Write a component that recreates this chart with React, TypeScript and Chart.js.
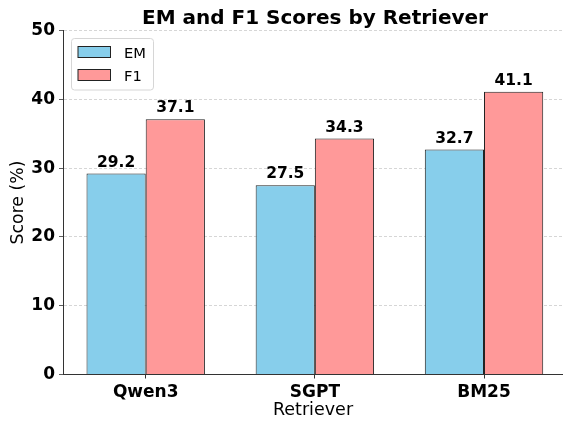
import React, { useEffect, useRef } from "react";
import { Chart, registerables } from "chart.js";

Chart.register(...registerables);

const categories = ["Qwen3", "SGPT", "BM25"];
const emValues = [29.2, 27.5, 32.7];
const f1Values = [37.1, 34.3, 41.1];
const seriesNames = ["EM", "F1"];
const yTicks = [0, 10, 20, 30, 40, 50];

const FONT = "'DejaVu Sans', sans-serif";
const EM_COLOR = "#87CEEB";
const F1_COLOR = "#FF9999";

export default function App() {
  const ref = useRef<HTMLCanvasElement | null>(null);

  useEffect(() => {
    const canvas = ref.current;
    if (!canvas) return;

    const overlay = {
      id: "overlay",
      afterDatasetsDraw(chart: any) {
        const ctx = chart.ctx;
        ctx.save();
        ctx.font = `bold 15.5px ${FONT}`;
        ctx.fillStyle = "#000";
        ctx.textAlign = "center";
        ctx.textBaseline = "alphabetic";
        chart.data.datasets.forEach((ds: any, di: number) => {
          const meta = chart.getDatasetMeta(di);
          meta.data.forEach((bar: any, i: number) => {
            const v = ds.data[i].y;
            ctx.fillText(v.toFixed(1), bar.x, bar.y - 7);
          });
        });
        ctx.restore();
      },
      afterDraw(chart: any) {
        const ctx = chart.ctx;
        ctx.save();
        ctx.font = `bold 20px ${FONT}`;
        ctx.fillStyle = "#000";
        ctx.textAlign = "center";
        ctx.textBaseline = "alphabetic";
        ctx.fillText("EM and F1 Scores by Retriever", 315, 24);

        const lx = 71.5, ly = 38.5, lw = 82, lh = 51.5, r = 3;
        ctx.beginPath();
        ctx.moveTo(lx + r, ly);
        ctx.lineTo(lx + lw - r, ly);
        ctx.arcTo(lx + lw, ly, lx + lw, ly + r, r);
        ctx.lineTo(lx + lw, ly + lh - r);
        ctx.arcTo(lx + lw, ly + lh, lx + lw - r, ly + lh, r);
        ctx.lineTo(lx + r, ly + lh);
        ctx.arcTo(lx, ly + lh, lx, ly + lh - r, r);
        ctx.lineTo(lx, ly + r);
        ctx.arcTo(lx, ly, lx + r, ly, r);
        ctx.closePath();
        ctx.fillStyle = "rgba(255,255,255,0.8)";
        ctx.fill();
        ctx.strokeStyle = "#d6d6d6";
        ctx.lineWidth = 1;
        ctx.stroke();

        const colors = [EM_COLOR, F1_COLOR];
        const sy = [46.5, 69.5];
        seriesNames.forEach((name, i) => {
          ctx.fillStyle = colors[i];
          ctx.fillRect(78, sy[i], 32.5, 11);
          ctx.strokeStyle = "#222";
          ctx.lineWidth = 1;
          ctx.strokeRect(78, sy[i], 32.5, 11);
          ctx.fillStyle = "#000";
          ctx.font = `14.7px ${FONT}`;
          ctx.textAlign = "left";
          ctx.textBaseline = "alphabetic";
          ctx.fillText(name, 124, sy[i] + 11);
        });
        ctx.restore();
      },
    };

    const chart = new Chart(canvas, {
      type: "bar",
      data: {
        datasets: [
          {
            label: seriesNames[0],
            data: categories.map((_, i) => ({ x: i, y: emValues[i] })),
            backgroundColor: EM_COLOR,
            borderColor: "#222",
            borderWidth: 1,
            categoryPercentage: 0.7,
            barPercentage: 1.0,
          },
          {
            label: seriesNames[1],
            data: categories.map((_, i) => ({ x: i, y: f1Values[i] })),
            backgroundColor: F1_COLOR,
            borderColor: "#222",
            borderWidth: 1,
            categoryPercentage: 0.7,
            barPercentage: 1.0,
          },
        ],
      },
      options: {
        animation: false,
        responsive: false,
        maintainAspectRatio: false,
        layout: { padding: { top: 30.5, right: 0, left: 0, bottom: 0 } },
        plugins: {
          legend: { display: false },
          title: { display: false },
          tooltip: { enabled: false },
        },
        scales: {
          x: {
            type: "linear",
            offset: false,
            min: -0.489,
            max: 2.467,
            afterBuildTicks: (scale: any) => {
              scale.ticks = categories.map((_, i) => ({ value: i }));
            },
            afterFit: (scale: any) => {
              scale.height = 46.5;
            },
            ticks: {
              color: "#000",
              font: { family: FONT, size: 17, weight: "bold" },
              padding: 4,
              callback: (v: any) => categories[Math.round(v)] ?? "",
              maxRotation: 0,
              autoSkip: false,
            },
            grid: {
              display: true,
              offset: false,
              drawOnChartArea: false,
              drawTicks: true,
              tickLength: 4,
              tickColor: "#333",
            },
            border: { display: true, color: "#333", width: 1 },
            title: {
              display: true,
              text: "Retriever",
              color: "#000",
              font: { family: FONT, size: 17.5 },
              padding: { top: 0, bottom: 0 },
            },
          },
          y: {
            min: 0,
            max: 50,
            afterBuildTicks: (scale: any) => {
              scale.ticks = yTicks.map((v) => ({ value: v }));
            },
            afterFit: (scale: any) => {
              scale.width = 63;
            },
            ticks: {
              color: "#000",
              font: { family: FONT, size: 17, weight: "bold" },
              padding: 4,
            },
            grid: {
              display: true,
              offset: false,
              color: "#cccccc",
              lineWidth: 0.8,
              drawTicks: true,
              tickLength: 4,
              tickColor: "#333",
            },
            border: { display: true, color: "#333", width: 1, dash: [3, 2] },
            title: {
              display: true,
              text: "Score (%)",
              color: "#000",
              font: { family: FONT, size: 17.3 },
              padding: { top: 8.5, bottom: 0 },
            },
          },
        },
      },
      plugins: [overlay],
    } as any);

    return () => chart.destroy();
  }, []);

  return (
    <div style={{ position: "fixed", left: 0, top: 0, width: 563, height: 421, background: "#fff" }}>
      <canvas ref={ref} width={563} height={421} style={{ width: 563, height: 421, display: "block" }} />
    </div>
  );
}
